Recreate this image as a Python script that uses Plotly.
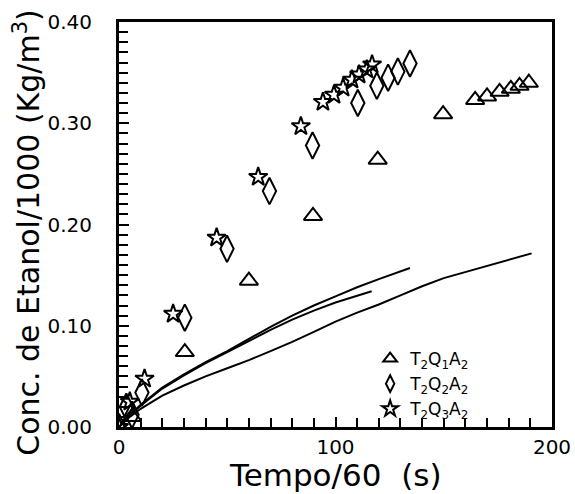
import plotly.graph_objects as go

# T2Q1A2 (triangles)
t1_x = [0, 6, 30.4, 60, 89.6, 119.5, 149.7, 164.5, 170, 175.8, 181, 185, 189.3]
t1_y = [0.0, 0.01, 0.074, 0.1445, 0.2085, 0.264, 0.309, 0.323, 0.3265, 0.331, 0.334, 0.337, 0.340]
# T2Q2A2 (diamonds)
d2_x = [0, 3.4, 6, 10.6, 30.4, 49.9, 69.5, 89.4, 110.3, 119.1, 124.3, 128.8, 134.4]
d2_y = [0.0, 0.02, 0.012, 0.034, 0.108, 0.176, 0.233, 0.278, 0.320, 0.337, 0.345, 0.351, 0.359]
# T2Q3A2 (stars)
s3_x = [0, 5, 11.8, 25, 45.1, 64.3, 84.0, 94.2, 99.3, 103.5, 107.6, 110.9, 114.5, 116.9]
s3_y = [0.0, 0.025, 0.0476, 0.1117, 0.187, 0.247, 0.297, 0.321, 0.328, 0.335, 0.343, 0.348, 0.353, 0.358]

# model curves
la_x = [0, 5, 10, 20, 30, 40, 50, 60, 70, 80, 90, 100, 110, 120, 134.4]
la_y = [0, 0.012, 0.022, 0.039, 0.052, 0.064, 0.075, 0.087, 0.099, 0.110, 0.120, 0.129, 0.138, 0.146, 0.157]
lb_x = [0, 5, 10, 20, 30, 40, 50, 60, 70, 80, 90, 100, 110, 116.7]
lb_y = [0, 0.012, 0.021, 0.038, 0.051, 0.063, 0.074, 0.085, 0.096, 0.106, 0.115, 0.123, 0.130, 0.134]
lc_x = [0, 5, 10, 20, 30, 40, 50, 60, 70, 80, 90, 100, 110, 120, 130, 140, 150, 160, 170, 180, 190.6]
lc_y = [0, 0.010, 0.018, 0.031, 0.041, 0.050, 0.058, 0.066, 0.075, 0.084, 0.094, 0.104, 0.113, 0.121,
        0.130, 0.139, 0.147, 0.153, 0.159, 0.165, 0.1715]

labels = ["T<sub>2</sub>Q<sub>1</sub>A<sub>2</sub>",
          "T<sub>2</sub>Q<sub>2</sub>A<sub>2</sub>",
          "T<sub>2</sub>Q<sub>3</sub>A<sub>2</sub>"]
x_title = "Tempo/60  (s)"
y_title = "Conc. de Etanol/1000 (Kg/m<sup>3</sup>)"

FONT = "DejaVu Sans"
fig = go.Figure()
for lx, ly in [(la_x, la_y), (lb_x, lb_y), (lc_x, lc_y)]:
    fig.add_trace(go.Scatter(x=lx, y=ly, mode="lines", line=dict(color="black", width=2),
                             showlegend=False, hoverinfo="skip"))

mk = dict(color="black", line=dict(color="black", width=2))
fig.add_trace(go.Scatter(x=t1_x, y=t1_y, mode="markers", name=labels[0],
                         marker=dict(symbol="triangle-up-open", size=16, **mk)))
fig.add_trace(go.Scatter(x=d2_x, y=d2_y, mode="markers", name=labels[1],
                         marker=dict(symbol="diamond-tall-open", size=19, **mk)))
fig.add_trace(go.Scatter(x=s3_x, y=s3_y, mode="markers", name=labels[2],
                         marker=dict(symbol="star-open", size=14, **mk)))

fig.update_layout(
    template="none",
    width=575, height=494,
    margin=dict(l=119, r=23, t=22, b=67, pad=0),
    paper_bgcolor="white", plot_bgcolor="white",
    font=dict(family=FONT, color="black"),
    legend=dict(x=0.58, y=0.0, xanchor="left", yanchor="bottom",
                bgcolor="rgba(0,0,0,0)", font=dict(size=17, family=FONT),
                tracegroupgap=0, itemsizing="constant"),
    showlegend=True,
    annotations=[
        dict(text=x_title, xref="paper", yref="paper", x=0.5, y=-0.168,
             xanchor="center", yanchor="bottom", showarrow=False,
             font=dict(size=31, family=FONT)),
        dict(text=y_title, xref="paper", yref="paper", x=-0.212, y=0.48,
             xanchor="center", yanchor="middle", textangle=-90, showarrow=False,
             font=dict(size=30, family=FONT)),
    ],
)
fig.update_xaxes(
    range=[0, 200], dtick=100, tick0=0,
    ticks="inside", ticklen=10, tickwidth=2, tickcolor="black",
    minor=dict(dtick=10, ticks="inside", ticklen=9, tickwidth=2, tickcolor="black", showgrid=False),
    showline=True, linewidth=3, linecolor="black", mirror=True,
    showgrid=False, zeroline=False,
    tickfont=dict(size=20, family=FONT),
)
fig.update_yaxes(
    range=[0, 0.40], dtick=0.1, tick0=0, tickformat=".2f",
    ticks="inside", ticklen=10, tickwidth=2, tickcolor="black",
    minor=dict(dtick=0.01, ticks="inside", ticklen=9, tickwidth=2, tickcolor="black", showgrid=False),
    showline=True, linewidth=3, linecolor="black", mirror=True,
    showgrid=False, zeroline=False, ticklabelstandoff=20,
    tickfont=dict(size=20, family=FONT),
)
fig.write_html("out.html", post_script="document.body.style.margin='0';",
               config={"displayModeBar": False})
